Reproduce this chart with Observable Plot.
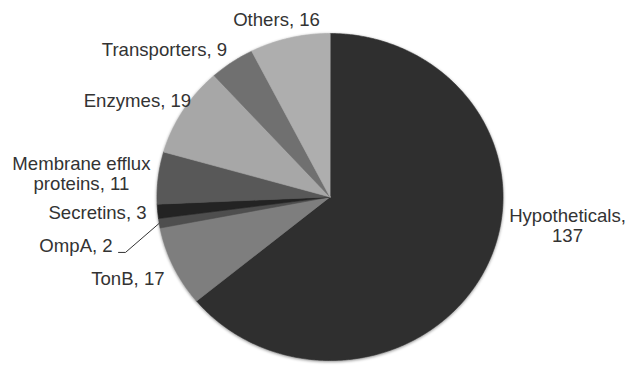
<!DOCTYPE html>
<html><head><meta charset="utf-8">
<script src="https://cdn.jsdelivr.net/npm/d3@7"></script>
<script src="https://cdn.jsdelivr.net/npm/@observablehq/plot@0.6"></script>
<style>body{margin:0;background:#fff} #chart svg{display:block}</style>
</head><body><div id="chart"></div>
<script>
// ---- data ----
const categories = ["Hypotheticals","TonB","OmpA","Secretins","Membrane efflux proteins","Enzymes","Transporters","Others"];
const counts = [137, 17, 2, 3, 11, 19, 9, 16];
const labelText = ["Hypotheticals,\n137","TonB, 17","OmpA, 2","Secretins, 3","Membrane efflux\nproteins, 11","Enzymes, 19","Transporters, 9","Others, 16"];
const sliceColors = ["#2f2f2f","#7e7e7e","#4e4e4e","#232323","#585858","#a7a7a7","#707070","#aeaeae"];
// label layout in pie-radius units (centre = 0,0)
const labelX = [1.373, -1.168, -1.468, -1.344, -1.437, -1.113, -0.957, -0.309];
const labelY = [-0.174, -0.498, -0.297, -0.095, 0.144, 0.590, 0.902, 1.086];

// ---- geometry via d3.pie ----
const arcs = d3.pie().sort(null).value(d => d)(counts);
const slices = [];
arcs.forEach((a, i) => {
  const n = Math.max(4, Math.ceil((a.endAngle - a.startAngle) / 0.01));
  slices.push({cat: categories[i], x: 0, y: 0});
  for (let j = 0; j <= n; j++) {
    const t = a.startAngle + (a.endAngle - a.startAngle) * j / n;
    slices.push({cat: categories[i], x: Math.sin(t), y: Math.cos(t)});
  }
});
const labels = categories.map((c, i) => ({text: labelText[i], x: labelX[i], y: labelY[i]}));
// leader line for OmpA: from slice edge at mid-angle to the label
const om = arcs[2], omMid = (om.startAngle + om.endAngle) / 2;
const leader = [
  {x: Math.sin(omMid), y: Math.cos(omMid)},
  {x: -1.182, y: -0.339},
  {x: -1.2225, y: -0.339}
];

const chart = Plot.plot({
  width: 630, height: 366,
  margin: 0,
  x: {domain: [-1, 1], range: [156.5, 502.5], axis: null},
  y: {domain: [-1, 1], range: [360, 33], axis: null},
  color: {domain: categories, range: sliceColors},
  style: {fontFamily: "'Liberation Sans', Arial, sans-serif", background: "#fff"},
  marks: [
    Plot.line(slices, {x: "x", y: "y", z: "cat", fill: "cat", stroke: "cat", strokeWidth: 0.6, curve: "linear-closed"}),
    Plot.line(leader, {x: "x", y: "y", stroke: "#333", strokeWidth: 1}),
    Plot.text(labels, {x: "x", y: "y", text: "text", fontSize: 18.6, lineHeight: 1.08, fill: "#333", textAnchor: "middle"})
  ]
});
document.getElementById("chart").appendChild(chart);
const g = chart.querySelector('g[aria-label="line"]');
if (g) g.style.filter = "drop-shadow(0px 1px 1.5px rgba(0,0,0,0.45))";
</script>
</body></html>
